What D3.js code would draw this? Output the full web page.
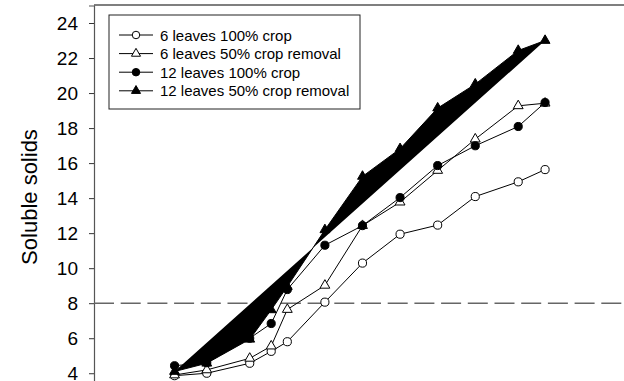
<!DOCTYPE html>
<html>
<head>
<meta charset="utf-8">
<script src="https://cdn.jsdelivr.net/npm/d3@7"></script>
<style>
    body { margin: 0; background: #fff; }
    text { font-family: "Liberation Sans", Arial, sans-serif; fill: #000; }
</style>
</head>
<body>
<div id="chart"></div>
<script>
// Sampling days (x has no axis in the original)
const days = [0, 6, 14, 18, 21, 28, 35, 42, 49, 56, 64, 69];

// Soluble solids per treatment
const sixLeaves100 = [3.86, 4.0, 4.57, 5.25, 5.8, 8.06, 10.29, 11.94, 12.46, 14.09, 14.93, 15.63];
const sixLeaves50 = [3.9, 4.19, 4.85, 5.55, 7.64, 9.02, 12.43, 13.77, 15.58, 17.37, 19.27, 19.42];
const twelveLeaves100 = [4.43, 4.6, 6.0, 6.84, 8.78, 11.31, 12.43, 14.03, 15.86, 16.99, 18.09, 19.46];
const twelveLeaves50 = [4.1, 4.57, 5.94, 7.62, 8.95, 12.19, 15.24, 16.82, 19.14, 20.51, 22.43, 23.0];

const seriesNames = [
    "6 leaves 100% crop",
    "6 leaves 50% crop removal",
    "12 leaves 100% crop",
    "12 leaves 50% crop removal"
];
const yTicks = [4, 6, 8, 10, 12, 14, 16, 18, 20, 22, 24];
const threshold = 8;

const margin = { top: 5, right: 0, bottom: 0, left: 94 };
const width = 624 - margin.left - margin.right;
const height = 382 - margin.top;

const svg = d3.select("#chart")
    .append("svg")
    .attr("width", 624)
    .attr("height", 381)
    .append("g")
    .attr("transform", `translate(${margin.left},${margin.top})`);

// X scale (days)
const x = d3.scaleLinear()
    .domain([-15, 83.7])
    .range([0, width]);

// Y scale
const y = d3.scaleLinear()
    .domain([3.5, 25])
    .range([height, 0.5]);

// series setup
const series = [
    { name: seriesNames[0], values: sixLeaves100, symbol: d3.symbolCircle, filled: false, fillArea: false },
    { name: seriesNames[1], values: sixLeaves50, symbol: d3.symbolTriangle, filled: false, fillArea: false },
    { name: seriesNames[2], values: twelveLeaves100, symbol: d3.symbolCircle, filled: true, fillArea: false },
    { name: seriesNames[3], values: twelveLeaves50, symbol: d3.symbolTriangle, filled: true, fillArea: true }
];

const symbolSize = s => s === d3.symbolCircle ? 52 : 42;

// Top frame line
svg.append("line")
    .attr("x1", 0)
    .attr("x2", width)
    .attr("y1", 0)
    .attr("y2", 0)
    .attr("stroke", "#000")
    .attr("stroke-width", 1.2);

// Y axis
const yAxis = svg.append("g")
    .call(d3.axisLeft(y).tickValues(yTicks).tickSize(5).tickPadding(11));
yAxis.select(".domain").attr("stroke", "#555").attr("stroke-width", 1.2);
yAxis.selectAll(".tick line").attr("stroke", "#333");
yAxis.selectAll("text")
    .style("font-size", "19px")
    .style("font-family", "Liberation Sans, Arial, sans-serif")
    .attr("fill", "#000");

// Threshold dashed line
svg.append("line")
    .attr("x1", 0)
    .attr("x2", width)
    .attr("y1", y(threshold))
    .attr("y2", y(threshold))
    .attr("stroke", "#666")
    .attr("stroke-width", 1.4)
    .attr("stroke-dasharray", "20,6.7");

// Lines
const line = d3.line()
    .x(d => x(d.day))
    .y(d => y(d.value));

series.forEach(s => {
    const pts = days.map((day, i) => ({ day: day, value: s.values[i] }));
    svg.append("path")
        .datum(pts)
        .attr("fill", s.fillArea ? "#000" : "none")
        .attr("stroke", "#000")
        .attr("stroke-width", 1)
        .attr("d", line);

    svg.selectAll(null)
        .data(pts)
        .join("path")
        .attr("transform", d => `translate(${x(d.day)},${y(d.value)})`)
        .attr("d", d3.symbol(s.symbol, symbolSize(s.symbol)))
        .attr("fill", s.filled ? "#000" : "#fff")
        .attr("stroke", "#000")
        .attr("stroke-width", 1);
});

// Y axis label
svg.append("text")
    .attr("transform", "rotate(-90)")
    .attr("x", -(197 - margin.top))
    .attr("y", -margin.left + 37)
    .attr("text-anchor", "middle")
    .style("font-size", "22px")
    .text("Soluble solids");

// Legend
const legend = svg.append("g")
    .attr("transform", `translate(${109 - margin.left}, ${15 - margin.top})`);

legend.append("rect")
    .attr("x", 0)
    .attr("y", 0)
    .attr("width", 251)
    .attr("height", 94)
    .attr("fill", "#fff")
    .attr("stroke", "#222")
    .attr("stroke-width", 1);

series.forEach((s, i) => {
    const g = legend.append("g")
        .attr("transform", `translate(0, ${20 + i * 18.6})`);
    g.append("line")
        .attr("x1", 10)
        .attr("x2", 44)
        .attr("y1", 0)
        .attr("y2", 0)
        .attr("stroke", "#000")
        .attr("stroke-width", 1);
    g.append("path")
        .attr("transform", "translate(27,0)")
        .attr("d", d3.symbol(s.symbol, symbolSize(s.symbol) * 0.85))
        .attr("fill", s.filled ? "#000" : "#fff")
        .attr("stroke", "#000")
        .attr("stroke-width", 1);
    g.append("text")
        .attr("x", 51)
        .attr("y", 5.5)
        .style("font-size", "15px")
        .text(s.name);
});
</script>
</body>
</html>
